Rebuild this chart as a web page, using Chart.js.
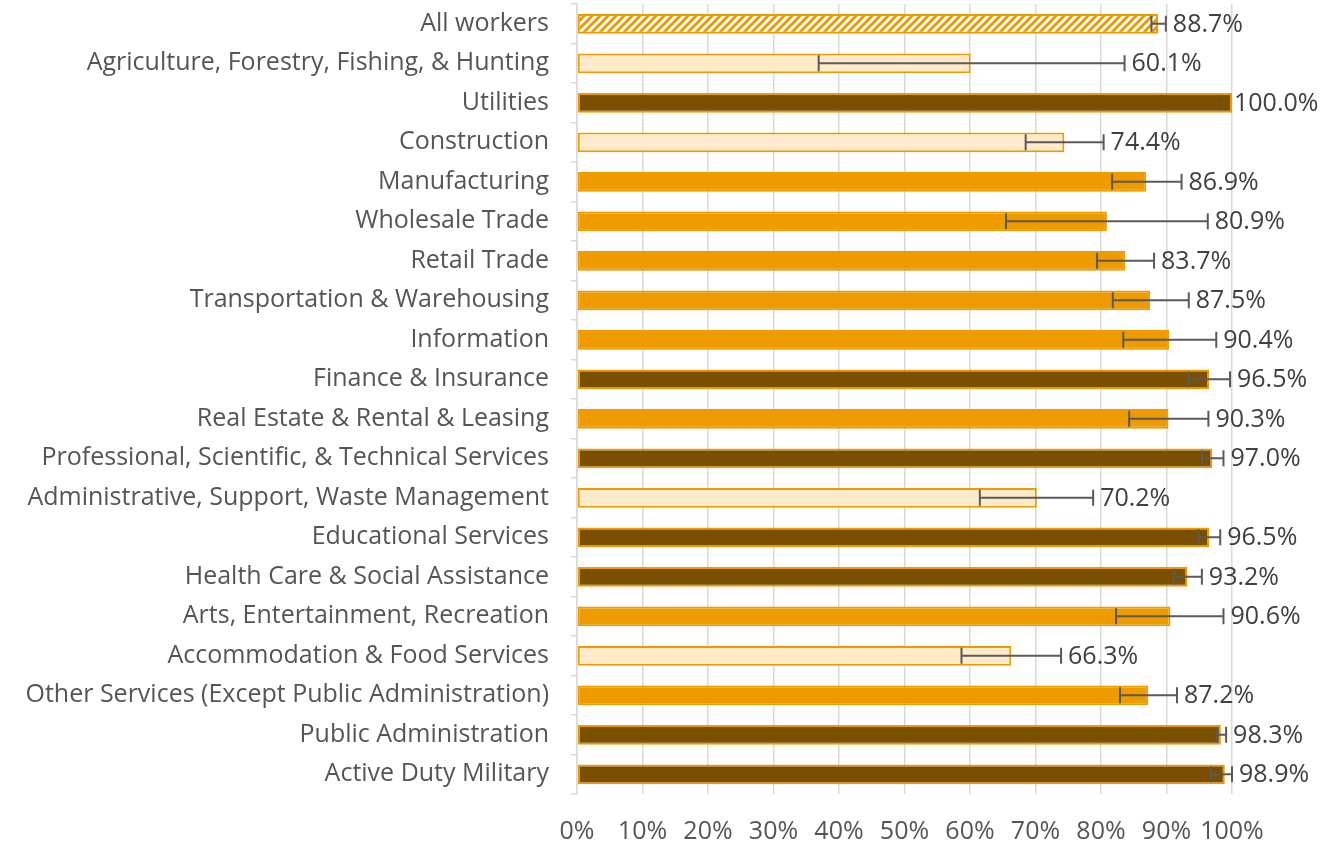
<!DOCTYPE html>
<html>
<head>
<meta charset="utf-8">
<script src="https://cdn.jsdelivr.net/npm/chart.js@4.4.1/dist/chart.umd.min.js"></script>
<style>
  html, body { margin: 0; padding: 0; background: #ffffff; }
  #wrap { width: 1324px; height: 844px; position: relative; }
</style>
</head>
<body>
<div id="wrap"><canvas id="industryChart"></canvas></div>
<script>
const categories = [
    'All workers',
    'Agriculture, Forestry, Fishing, & Hunting',
    'Utilities',
    'Construction',
    'Manufacturing',
    'Wholesale Trade',
    'Retail Trade',
    'Transportation & Warehousing',
    'Information',
    'Finance & Insurance',
    'Real Estate & Rental & Leasing',
    'Professional, Scientific, & Technical Services',
    'Administrative, Support, Waste Management',
    'Educational Services',
    'Health Care & Social Assistance',
    'Arts, Entertainment, Recreation',
    'Accommodation & Food Services',
    'Other Services (Except Public Administration)',
    'Public Administration',
    'Active Duty Military'
];
const values   = [88.7, 60.1, 100.0, 74.4, 86.9, 80.9, 83.7, 87.5, 90.4, 96.5, 90.3, 97.0, 70.2, 96.5, 93.2, 90.6, 66.3, 87.2, 98.3, 98.9];
const errLow   = [87.7, 36.9, 100.0, 68.5, 81.7, 65.5, 79.4, 81.8, 83.4, 93.4, 84.3, 95.4, 61.5, 94.9, 91.1, 82.3, 58.7, 82.9, 97.7, 96.8];
const errHigh  = [89.9, 83.6, 100.0, 80.4, 92.3, 96.3, 88.1, 93.4, 97.6, 99.7, 96.4, 98.7, 78.8, 98.2, 95.4, 98.7, 73.9, 91.6, 99.1, 100.0];
// overall / below / similar / above
const groups   = ['overall', 'below', 'above', 'below', 'similar', 'similar', 'similar', 'similar', 'similar', 'above',
                  'similar', 'above', 'below', 'above', 'above', 'similar', 'below', 'similar', 'above', 'above'];
const xTicks   = [0, 10, 20, 30, 40, 50, 60, 70, 80, 90, 100];

const ORANGE = '#EE9B00';
const DARK = '#7A4F00';
const LIGHT = '#FFEBCB';
const TEXT = '#555555';
const FONT = "'Open Sans', sans-serif";

// white/orange diagonal stripes for the overall bar
function stripePattern() {
    const c = document.createElement('canvas');
    c.width = 8; c.height = 8;
    const g = c.getContext('2d');
    g.fillStyle = '#ffffff';
    g.fillRect(0, 0, 8, 8);
    g.strokeStyle = ORANGE;
    g.lineWidth = 3;
    g.beginPath();
    g.moveTo(-2, 10); g.lineTo(10, -2);
    g.moveTo(-6, 6); g.lineTo(6, -6);
    g.moveTo(2, 14); g.lineTo(14, 2);
    g.stroke();
    return g.createPattern(c, 'repeat');
}

const fills = groups.map(g => {
    if (g === 'overall') return stripePattern();
    if (g === 'below') return LIGHT;
    if (g === 'above') return DARK;
    return ORANGE;
});

// whiskers drawn from errLow/errHigh, then the value labels
const errorBars = {
    id: 'errorBars',
    afterDatasetsDraw(chart) {
        const ctx = chart.ctx;
        const xs = chart.scales.x;
        const meta = chart.getDatasetMeta(0);
        ctx.save();
        ctx.strokeStyle = '#5a5a5a';
        ctx.lineWidth = 2;
        meta.data.forEach((bar, i) => {
            if (errHigh[i] - errLow[i] < 0.05) return;
            const x1 = xs.getPixelForValue(errLow[i]);
            const x2 = xs.getPixelForValue(errHigh[i]);
            const y = bar.y;
            ctx.beginPath();
            ctx.moveTo(x1, y); ctx.lineTo(x2, y);
            ctx.moveTo(x1, y - 8); ctx.lineTo(x1, y + 8);
            ctx.moveTo(x2, y - 8); ctx.lineTo(x2, y + 8);
            ctx.stroke();
        });
        ctx.fillStyle = '#404040';
        ctx.font = '25px ' + FONT;
        ctx.textBaseline = 'middle';
        ctx.textAlign = 'left';
        meta.data.forEach((bar, i) => {
            const end = Math.max(values[i], errHigh[i]);
            const x = xs.getPixelForValue(end) + (errHigh[i] > values[i] ? 7 : 2);
            ctx.fillText(values[i].toFixed(1) + '%', x, bar.y + 1);
        });
        ctx.restore();
    }
};

new Chart(document.getElementById('industryChart'), {
    type: 'bar',
    data: {
        labels: categories,
        datasets: [{
            data: values,
            backgroundColor: fills,
            borderColor: ORANGE,
            borderWidth: 2,
            borderSkipped: false,
            categoryPercentage: 1.0,
            barPercentage: 0.5
        }]
    },
    options: {
        indexAxis: 'y',
        responsive: true,
        maintainAspectRatio: false,
        animation: false,
        layout: { padding: { top: 4, right: 92, left: 0, bottom: 0 } },
        plugins: {
            legend: { display: false },
            tooltip: { enabled: false }
        },
        scales: {
            x: {
                min: 0,
                max: 100,
                afterBuildTicks: s => { s.ticks = xTicks.map(v => ({ value: v })); },
                afterFit: s => { s.height = 50; },
                grid: { color: '#d9d9d9', lineWidth: 1.5, drawTicks: false },
                border: { display: false },
                ticks: {
                    color: TEXT,
                    padding: 23,
                    maxRotation: 0,
                    autoSkip: false,
                    font: { family: FONT, size: 25 },
                    callback: v => v + '%'
                }
            },
            y: {
                afterFit: s => { s.width = 577; s.paddingTop = 0; s.paddingBottom = 0; },
                grid: { drawOnChartArea: false, drawTicks: true, tickLength: 6, color: '#d9d9d9', lineWidth: 1.5 },
                border: { display: true, color: '#d9d9d9', width: 1.5 },
                ticks: {
                    color: TEXT,
                    padding: 22,
                    autoSkip: false,
                    font: { family: FONT, size: 25 }
                }
            }
        }
    },
    plugins: [errorBars]
});
</script>
</body>
</html>
